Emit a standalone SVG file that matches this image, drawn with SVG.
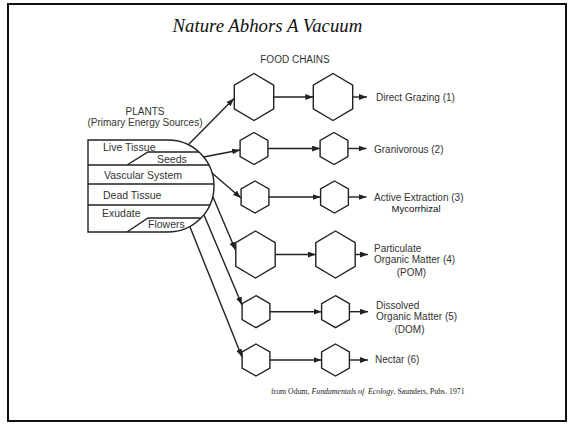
<svg xmlns="http://www.w3.org/2000/svg" width="568" height="424" viewBox="0 0 568 424">
<defs>
<marker id="ah" viewBox="0 0 8 6" refX="8" refY="3" markerWidth="8" markerHeight="6" markerUnits="userSpaceOnUse" orient="auto">
<path d="M0,0 L8,3 L0,6 z" fill="#222"/>
</marker>
<style>
.ln{stroke:#222;stroke-width:1.4;fill:none}
.ar{stroke:#222;stroke-width:1.4;fill:none;marker-end:url(#ah)}
.hx{stroke:#222;stroke-width:1.4;fill:#fff}
.t{font-family:"Liberation Sans",Arial,sans-serif;font-size:10px;fill:#333}
.tb{font-family:"Liberation Sans",Arial,sans-serif;font-size:10.5px;fill:#333}
.ttl{font-family:"Liberation Serif","Times New Roman",serif;font-style:italic;font-size:18.8px;fill:#111}
.ft{font-family:"Liberation Serif","Times New Roman",serif;font-size:7.8px;fill:#222}
</style>
</defs>
<rect x="8" y="4" width="558" height="417" fill="#fff" stroke="#111" stroke-width="2"/>
<text class="ttl" x="172.5" y="31.5">Nature Abhors A Vacuum</text>
<text class="t" x="295" y="62.5" text-anchor="middle" fill="#444">FOOD CHAINS</text>

<g id="plants">
<text class="t" x="145" y="115" text-anchor="middle">PLANTS</text>
<text class="t" x="145" y="125.5" text-anchor="middle">(Primary Energy Sources)</text>
<path class="ln" d="M88,140 H168 A46,46 0 0 1 168,232 H88 Z"/>
<path class="ln" d="M88,165 H209 M88,184 H214 M88,205 H210 M127,165 L148,152 H199 M127,232 L148,218 H201"/>
<text class="tb" x="103" y="151">Live Tissue</text>
<text class="tb" x="157" y="162.5">Seeds</text>
<text class="tb" x="104" y="179">Vascular System</text>
<text class="tb" x="103" y="199">Dead Tissue</text>
<text class="tb" x="102" y="217">Exudate</text>
<text class="tb" x="148" y="228">Flowers</text>
</g>

<g id="r1h1"><polygon class="hx" points="254,73.5 273.7,85.25 273.7,108.75 254,120.5 234.3,108.75 234.3,85.25"/></g>
<g id="r1h2"><polygon class="hx" points="333,73.5 352.7,85.25 352.7,108.75 333,120.5 313.3,108.75 313.3,85.25"/></g>
<g id="r2h1"><polygon class="hx" points="254,132.5 267.9,140.5 267.9,156.5 254,164.5 240.1,156.5 240.1,140.5"/></g>
<g id="r2h2"><polygon class="hx" points="334,132.5 347.9,140.5 347.9,156.5 334,164.5 320.1,156.5 320.1,140.5"/></g>
<g id="r3h1"><polygon class="hx" points="255,181 268.9,189 268.9,205 255,213 241.1,205 241.1,189"/></g>
<g id="r3h2"><polygon class="hx" points="334.5,181 348.4,189 348.4,205 334.5,213 320.6,205 320.6,189"/></g>
<g id="r4h1"><polygon class="hx" points="255.5,231 275.2,242.75 275.2,266.25 255.5,278 235.8,266.25 235.8,242.75"/></g>
<g id="r4h2"><polygon class="hx" points="335.5,231 355.2,242.75 355.2,266.25 335.5,278 315.8,266.25 315.8,242.75"/></g>
<g id="r5h1"><polygon class="hx" points="256,295.7 269.9,303.7 269.9,319.7 256,327.7 242.1,319.7 242.1,303.7"/></g>
<g id="r5h2"><polygon class="hx" points="335.5,295.7 349.4,303.7 349.4,319.7 335.5,327.7 321.6,319.7 321.6,303.7"/></g>
<g id="r6h1"><polygon class="hx" points="256,344 269.9,352 269.9,368 256,376 242.1,368 242.1,352"/></g>
<g id="r6h2"><polygon class="hx" points="335.5,344 349.4,352 349.4,368 335.5,376 321.6,368 321.6,352"/></g>

<g id="connectors">
<line class="ar" x1="189" y1="144" x2="234" y2="98.5"/>
<line class="ar" x1="203.5" y1="157" x2="240" y2="150"/>
<line class="ar" x1="212" y1="173" x2="241" y2="198"/>
<line class="ar" x1="213" y1="197" x2="235.5" y2="250"/>
<line class="ar" x1="204" y1="215" x2="242" y2="305"/>
<line class="ar" x1="190" y1="227" x2="242" y2="357"/>
<line class="ar" x1="273.7" y1="97" x2="313.3" y2="97"/>
<line class="ar" x1="267.9" y1="148.5" x2="320.1" y2="148.5"/>
<line class="ar" x1="268.9" y1="197" x2="320.6" y2="197"/>
<line class="ar" x1="275.2" y1="254.5" x2="315.8" y2="254.5"/>
<line class="ar" x1="269.9" y1="311.7" x2="321.6" y2="311.7"/>
<line class="ar" x1="269.9" y1="360" x2="321.6" y2="360"/>
<line class="ar" x1="352.7" y1="97" x2="367" y2="97"/>
<line class="ar" x1="347.9" y1="148.5" x2="366.5" y2="148.5"/>
<line class="ar" x1="348.4" y1="197" x2="366.5" y2="197"/>
<line class="ar" x1="355.2" y1="254.5" x2="368" y2="254.5"/>
<line class="ar" x1="349.4" y1="311.7" x2="368" y2="311.7"/>
<line class="ar" x1="349.4" y1="360" x2="368" y2="360"/>
</g>

<g id="labels">
<text class="t" x="376" y="100.5">Direct Grazing (1)</text>
<text class="t" x="374" y="152.5">Granivorous (2)</text>
<text class="t" x="374" y="201">Active Extraction (3)</text>
<text class="t" x="416" y="212" text-anchor="middle" style="fill:#111;font-size:9.6px">Mycorrhizal</text>
<text class="t" x="374" y="251.5">Particulate</text>
<text class="t" x="374" y="262.5">Organic Matter (4)</text>
<text class="t" x="411.5" y="275.5" text-anchor="middle">(POM)</text>
<text class="t" x="376" y="309">Dissolved</text>
<text class="t" x="376" y="320">Organic Matter (5)</text>
<text class="t" x="409.5" y="332.5" text-anchor="middle">(DOM)</text>
<text class="t" x="375" y="363">Nectar (6)</text>
</g>

<text class="ft" x="271" y="394" xml:space="preserve">from Odum, <tspan font-style="italic">Fundamentals of  Ecology</tspan>, Saunders, Pubs. 1971</text>
</svg>
